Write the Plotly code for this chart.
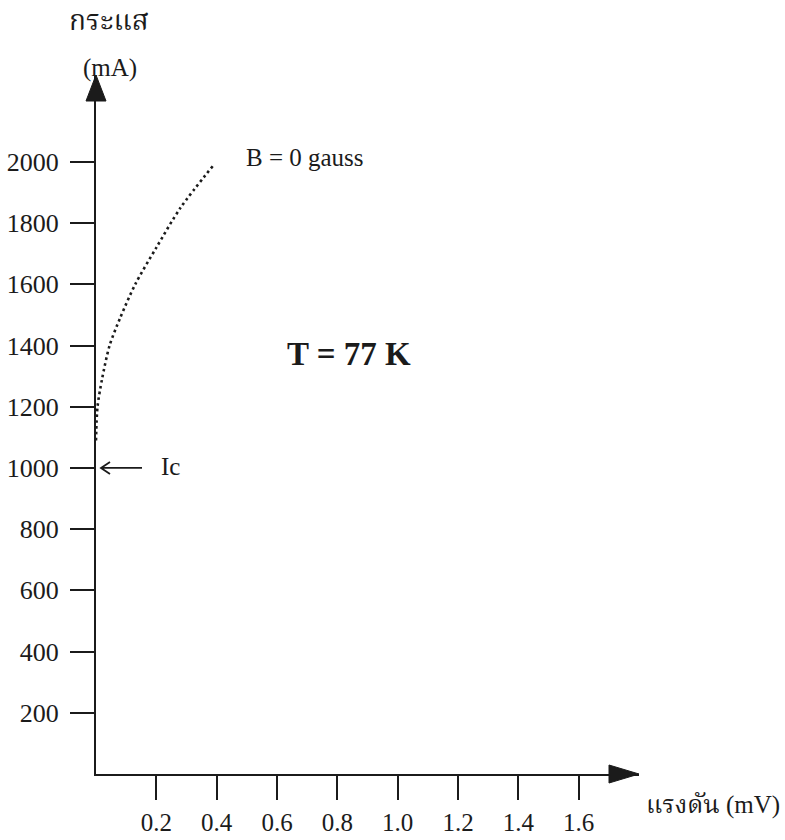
import plotly.graph_objects as go

# I-V curve at zero field (voltage in mV, current in mA)
voltage_mv = [0.0, 0.005, 0.02, 0.045, 0.08, 0.13, 0.2, 0.28, 0.39]
current_ma = [1090, 1200, 1290, 1400, 1490, 1600, 1720, 1850, 1990]

x_ticks = [0.2, 0.4, 0.6, 0.8, 1.0, 1.2, 1.4, 1.6]
x_tick_text = ["0.2", "0.4", "0.6", "0.8", "1.0", "1.2", "1.4", "1.6"]
y_ticks = [200, 400, 600, 800, 1000, 1200, 1400, 1600, 1800, 2000]
y_tick_text = [str(v) for v in y_ticks]

critical_current = 1000
x_max = 1.8
y_max = 2284

INK = "#1b1b1b"
SERIF = "Liberation Serif, Times New Roman, serif"
THAI = "Liberation Serif, Noto Serif Thai, Noto Sans Thai, Loma, Garuda, serif"

fig = go.Figure()
fig.add_trace(go.Scatter(
    x=voltage_mv, y=current_ma, mode="lines",
    line=dict(color=INK, width=2.6, dash="2.6px,3.2px", shape="spline", smoothing=0.8),
    hoverinfo="skip", showlegend=False,
))

axis_common = dict(
    showgrid=False, zeroline=False, showline=True, linecolor=INK, linewidth=2,
    ticks="outside", ticklen=24, tickwidth=2, tickcolor=INK, automargin=False,
    fixedrange=True,
)
fig.update_xaxes(range=[0, x_max], tickmode="array", tickvals=x_ticks,
                 ticktext=x_tick_text, ticklabelstandoff=1,
                 tickfont=dict(family=SERIF, size=25, color=INK), **axis_common)
fig.update_yaxes(range=[0, y_max], tickmode="array", tickvals=y_ticks,
                 ticktext=y_tick_text, ticklabelstandoff=6,
                 tickfont=dict(family=SERIF, size=26, color=INK), **axis_common)

shapes = [
    # arrowhead on the current axis
    dict(type="path", xref="paper", yref="paper", xsizemode="pixel", ysizemode="pixel",
         xanchor=0, yanchor=1, path="M -10,-26 L 10,-26 L 0,0 Z",
         fillcolor=INK, line=dict(color=INK, width=1)),
    # arrowhead on the voltage axis
    dict(type="path", xref="paper", yref="paper", xsizemode="pixel", ysizemode="pixel",
         xanchor=1, yanchor=0, path="M -30,9 L -30,-9 L 0,0 Z",
         fillcolor=INK, line=dict(color=INK, width=1)),
    # pointer to the critical current
    dict(type="path", xref="x", yref="y", xsizemode="pixel", ysizemode="pixel",
         xanchor=0, yanchor=critical_current,
         path="M 46,0 L 5,0 M 14,6 L 5,0 L 14,-6",
         line=dict(color=INK, width=1.8)),
]

annotations = [
    dict(text="กระแส", xref="paper", yref="paper", x=(109 - 96) / 543, y=(774 - 20) / 699,
         xanchor="center", yanchor="middle", showarrow=False,
         font=dict(family=THAI, size=28, color=INK)),
    dict(text="(mA)", xref="paper", yref="paper", x=(110 - 96) / 543, y=(774 - 68) / 699,
         xanchor="center", yanchor="middle", showarrow=False,
         font=dict(family=SERIF, size=25, color=INK)),
    dict(text="แรงดัน (mV)", xref="paper", yref="paper", x=(644 - 96) / 543, y=(774 - 805) / 699,
         xanchor="left", yanchor="middle", showarrow=False,
         font=dict(family=THAI, size=25, color=INK)),
    dict(text="B = 0 gauss", xref="x", yref="y", x=0.49, y=2016,
         xanchor="left", yanchor="middle", showarrow=False,
         font=dict(family=SERIF, size=25, color=INK)),
    dict(text="<b>T = 77 K</b>", xref="x", yref="y", x=0.84, y=1374,
         xanchor="center", yanchor="middle", showarrow=False,
         font=dict(family=SERIF, size=33, color=INK)),
    dict(text="Ic", xref="x", yref="y", x=0.21, y=critical_current + 5,
         xanchor="left", yanchor="middle", showarrow=False,
         font=dict(family=SERIF, size=25, color=INK)),
]

fig.update_layout(
    width=785, height=840,
    margin=dict(l=96, r=146, t=75, b=66),
    paper_bgcolor="white", plot_bgcolor="white",
    shapes=shapes, annotations=annotations,
    showlegend=False,
)

fig.write_html("out.html")
